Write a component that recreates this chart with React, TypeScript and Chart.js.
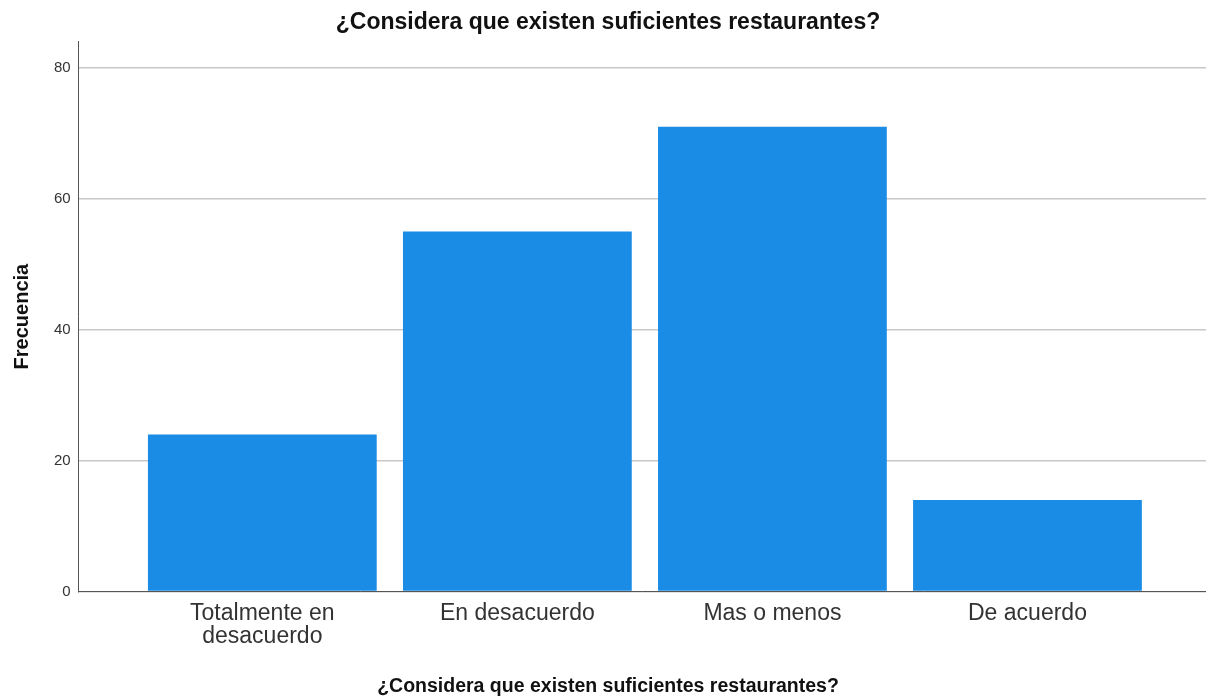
import React, { useEffect, useRef } from "react";
import { Chart, registerables } from "chart.js";

Chart.register(...registerables);

const categories: string[][] = [
  ["Totalmente en", "desacuerdo"],
  ["En desacuerdo"],
  ["Mas o menos"],
  ["De acuerdo"],
];
const frequencies: number[] = [24, 55, 71, 14];
const yTicks: number[] = [0, 20, 40, 60, 80];
const titleText = "¿Considera que existen suficientes restaurantes?";
const xTitle = "¿Considera que existen suficientes restaurantes?";
const yTitle = "Frecuencia";

export default function App() {
  const ref = useRef<HTMLCanvasElement | null>(null);

  useEffect(() => {
    document.body.style.margin = "0";
    const canvas = ref.current;
    if (!canvas) return;
    const font = "'Liberation Sans', Arial, sans-serif";
    const chart = new Chart(canvas, {
      type: "bar",
      data: {
        datasets: [
          {
            data: frequencies.map((v, i) => ({ x: i, y: v })),
            backgroundColor: "#1a8ce6",
            borderWidth: 0,
            categoryPercentage: 1,
            barPercentage: 0.897,
          },
        ],
      },
      options: {
        animation: false,
        responsive: false,
        maintainAspectRatio: false,
        layout: { padding: { left: 10, right: 0, top: 0, bottom: 0 } },
        plugins: {
          legend: { display: false },
          tooltip: { enabled: false },
          title: {
            display: true,
            text: titleText,
            color: "#111",
            font: { family: font, size: 23, weight: "bold" },
            padding: { top: 9, bottom: 5 },
          },
          subtitle: {
            display: true,
            position: "bottom",
            text: xTitle,
            color: "#111",
            font: { family: font, size: 19.5, weight: "bold" },
            padding: { top: 15, bottom: 1 },
          },
        },
        scales: {
          x: {
            type: "linear",
            offset: false,
            min: -0.72,
            max: 3.7,
            afterBuildTicks: (axis: any) => {
              axis.ticks = categories.map((_, i) => ({ value: i }));
            },
            ticks: {
              autoSkip: false,
              maxRotation: 0,
              padding: 11,
              color: "#333",
              font: { family: font, size: 23, lineHeight: 1.0 },
              callback: (v: any) => categories[Number(v)] ?? "",
            },
            grid: { display: false, drawTicks: false, offset: false },
            border: { display: true, color: "#555", width: 1 },
          },
          y: {
            min: 0,
            max: 84,
            afterBuildTicks: (axis: any) => {
              axis.ticks = yTicks.map((v) => ({ value: v }));
            },
            ticks: {
              padding: 8,
              color: "#333",
              font: { family: font, size: 15 },
            },
            grid: { color: "#c8c8c8", lineWidth: 1.5, drawTicks: false },
            border: { display: true, color: "#555", width: 1 },
            title: {
              display: true,
              text: yTitle,
              color: "#111",
              font: { family: font, size: 20, weight: "bold" },
              padding: { top: 0, bottom: 12 },
            },
          },
        },
      },
    } as any);
    return () => chart.destroy();
  }, []);

  return (
    <div style={{ width: 1206, height: 699, background: "#fff" }}>
      <canvas ref={ref} width={1206} height={699} />
    </div>
  );
}
